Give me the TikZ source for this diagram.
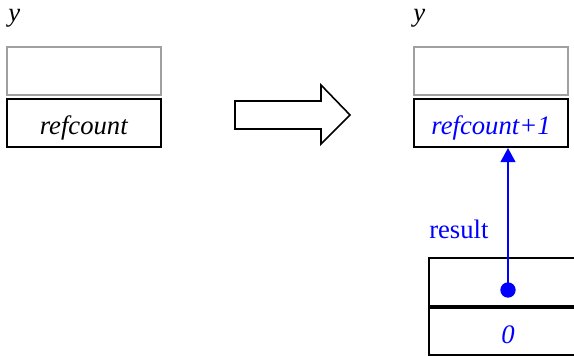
\documentclass[tikz,border=0pt]{standalone}
\usepackage{fontspec}
\setmainfont{Liberation Serif}
\usetikzlibrary{arrows.meta}

\begin{document}
\begin{tikzpicture}[x=0.75pt,y=0.75pt,yscale=-1,xscale=1,
    every node/.style={font=\fontsize{20}{24}\selectfont},
    cell/.style={draw=black,line width=1.5,minimum width=115.5pt,minimum height=36pt,inner sep=0pt,text height=18pt,text depth=0pt,anchor=center},
    oldcell/.style={cell,draw={rgb,255:red,160;green,160;blue,160}},
    ptr/.style={color=blue,line width=1.5,-{Triangle[length=10.5pt,width=11pt]}}]
        \useasboundingbox (0,0) rectangle (574,356);

        % Text Node
        \node (ylabel) [anchor=base west,inner sep=0pt] at (8,22) {\textit{y}};
        %Shape: Rectangle
        \node (oldtop) [oldcell] at (84,71) {};
        %Shape: Rectangle
        \node (oldcount) [cell] at (84,123) {\textit{refcount}};

        %Shape: Right Arrow
        \draw [line width=1.2] (235,101) -- (321,101) -- (321,85) -- (350,115) -- (321,144) -- (321,129) -- (235,129) -- cycle ;

        % Text Node
        \node (ylabelb) [anchor=base west,inner sep=0pt] at (413,22) {\textit{y}};
        %Shape: Rectangle
        \node (newtop) [oldcell] at (491,71.5) {};
        %Shape: Rectangle
        \node (newcount) [cell,text=blue] at (491,123) {\textit{refcount+1}};

        %Shape: Rectangle
        \node (restop) [cell,minimum width=118.5pt] at (508,282) {};
        %Shape: Rectangle
        \node (resval) [cell,minimum width=118.5pt,minimum height=35.5pt] at (508,331.5) {\textcolor{blue}{\textit{0}}};

        %Shape: Circle
        \node (resdot) [circle,fill=blue,inner sep=0pt,minimum size=11.5pt] at (508,290) {};
        %Straight Lines
        \draw [ptr] (resdot.center) -- (newcount.south -| resdot) ;
        % Text Node
        \node (reslabel) [anchor=base west,inner sep=0pt,text=blue] at (429,238) {result};
\end{tikzpicture}
\end{document}
